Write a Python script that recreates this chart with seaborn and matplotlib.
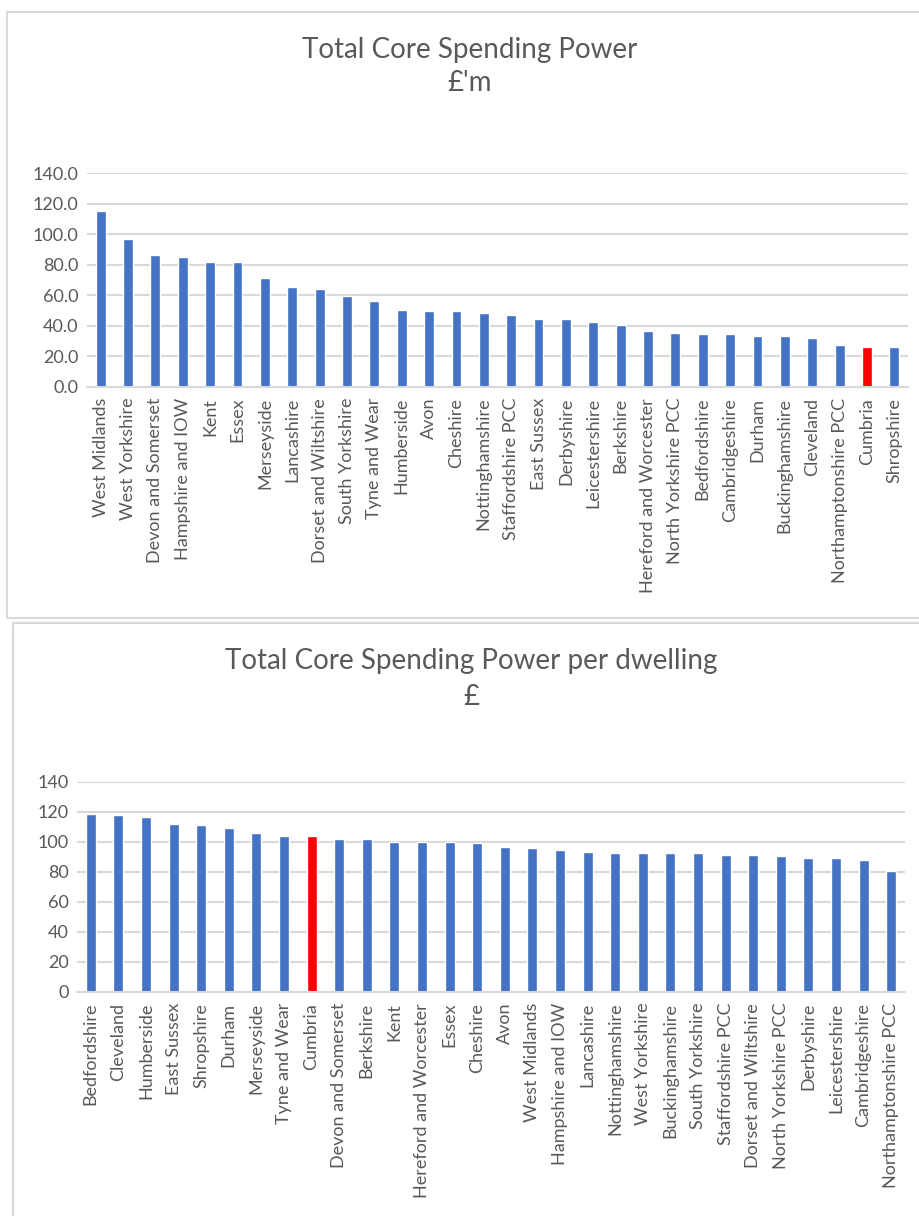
import pandas as pd
import seaborn as sns
import matplotlib.pyplot as plt
from matplotlib.patches import Rectangle

# datos del grafico de arriba (millones de libras)
zonas_total = ['West Midlands', 'West Yorkshire', 'Devon and Somerset', 'Hampshire and IOW',
               'Kent', 'Essex', 'Merseyside', 'Lancashire', 'Dorset and Wiltshire',
               'South Yorkshire', 'Tyne and Wear', 'Humberside', 'Avon', 'Cheshire',
               'Nottinghamshire', 'Staffordshire PCC', 'East Sussex', 'Derbyshire',
               'Leicestershire', 'Berkshire', 'Hereford and Worcester', 'North Yorkshire PCC',
               'Bedfordshire', 'Cambridgeshire', 'Durham', 'Buckinghamshire', 'Cleveland',
               'Northamptonshire PCC', 'Cumbria', 'Shropshire']
valores_total = [115.2, 96.6, 86.7, 85.2, 81.7, 81.7, 71.0, 65.5, 64.0, 59.2,
                 56.1, 50.4, 49.5, 49.5, 48.2, 46.9, 44.1, 44.1, 42.5, 40.6,
                 36.8, 35.5, 34.9, 34.9, 33.3, 33.3, 31.8, 27.6, 26.3, 26.1]

# datos del grafico de abajo (libras por vivienda)
zonas_vivienda = ['Bedfordshire', 'Cleveland', 'Humberside', 'East Sussex', 'Shropshire',
                  'Durham', 'Merseyside', 'Tyne and Wear', 'Cumbria', 'Devon and Somerset',
                  'Berkshire', 'Kent', 'Hereford and Worcester', 'Essex', 'Cheshire', 'Avon',
                  'West Midlands', 'Hampshire and IOW', 'Lancashire', 'Nottinghamshire',
                  'West Yorkshire', 'Buckinghamshire', 'South Yorkshire', 'Staffordshire PCC',
                  'Dorset and Wiltshire', 'North Yorkshire PCC', 'Derbyshire', 'Leicestershire',
                  'Cambridgeshire', 'Northamptonshire PCC']
valores_vivienda = [118.4, 117.5, 116.2, 112.0, 111.3, 108.9, 105.5, 104.0, 104.0, 102.0,
                    102.0, 100.0, 100.0, 100.0, 99.1, 96.2, 95.5, 94.6, 93.3, 92.6,
                    92.6, 92.6, 92.6, 91.1, 91.1, 90.4, 88.9, 88.9, 87.5, 80.4]

destacado = 'Cumbria'

azul = '#4472C4'
rojo = '#FF0000'
gris_texto = '#595959'
gris_linea = '#D9D9D9'

sns.set_style('white')
plt.rcParams['font.family'] = ['Lato', 'DejaVu Sans']

fig = plt.figure(figsize=(9.2, 12.16), dpi=100)

# marcos de cada panel
fig.patches.append(Rectangle((7 / 920, 1 - 618 / 1216), 1.0, 606 / 1216, transform=fig.transFigure,
                             fill=False, edgecolor=gris_linea, linewidth=1.5))
fig.patches.append(Rectangle((13 / 920, -0.1), 1.0, 0.1 + 593 / 1216, transform=fig.transFigure,
                             fill=False, edgecolor=gris_linea, linewidth=1.5))


def dibujar(ax, zonas, valores, formato):
    df = pd.DataFrame({'zona': zonas, 'valor': valores})
    df['color'] = ['rojo' if z == destacado else 'azul' for z in zonas]
    sns.barplot(x='zona', y='valor', hue='color', data=df, order=zonas,
                palette={'azul': azul, 'rojo': rojo}, width=0.36, dodge=False,
                legend=False, ax=ax, saturation=1)
    ax.set_xlim(-0.5, len(zonas) - 0.5)
    ax.set_ylim(0, 140)
    ax.set_yticks(range(0, 141, 20))
    ax.set_yticklabels([formato.format(v) for v in range(0, 141, 20)])
    ax.yaxis.grid(True, color=gris_linea, linewidth=1.5)
    ax.set_axisbelow(True)
    for lado in ['top', 'right', 'left']:
        ax.spines[lado].set_visible(False)
    ax.spines['bottom'].set_color(gris_linea)
    ax.spines['bottom'].set_linewidth(1.5)
    ax.tick_params(axis='x', rotation=90, labelsize=13, colors=gris_texto, length=0, pad=8)
    ax.tick_params(axis='y', labelsize=13, colors=gris_texto, length=0, pad=6)
    ax.set_xlabel('')
    ax.set_ylabel('')


# grafico de arriba
ax1 = fig.add_axes([87 / 920, 1 - 386.7 / 1216, 821 / 920, 213.4 / 1216])
dibujar(ax1, zonas_total, valores_total, '{:.1f}')
fig.text(470 / 920, 1 - 50 / 1216, 'Total Core Spending Power', ha='center', va='center',
         fontsize=20, color=gris_texto)
fig.text(470 / 920, 1 - 83 / 1216, "£'m", ha='center', va='center', fontsize=20, color=gris_texto)

# grafico de abajo
ax2 = fig.add_axes([77 / 920, 1 - 991.7 / 1216, 828 / 920, 210 / 1216])
dibujar(ax2, zonas_vivienda, valores_vivienda, '{:d}')
fig.text(471 / 920, 1 - 661 / 1216, 'Total Core Spending Power per dwelling', ha='center',
         va='center', fontsize=20, color=gris_texto)
fig.text(471 / 920, 1 - 697 / 1216, '£', ha='center', va='center', fontsize=20, color=gris_texto)

plt.savefig('out.png', dpi=100)
